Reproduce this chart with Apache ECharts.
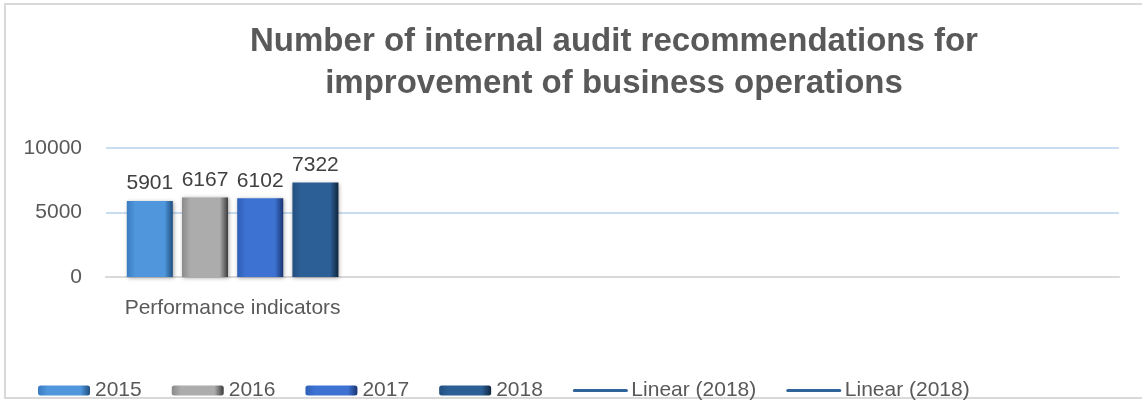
<!DOCTYPE html>
<html lang="en">
<head>
	<meta charset="UTF-8">
	<title>Internal audit recommendations</title>
	<script type="text/javascript" src="https://cdn.jsdelivr.net/npm/echarts@6/dist/echarts.min.js"></script>
	<style>
		html, body { margin: 0; padding: 0; background: #fff; }
		#chart { width: 1142px; height: 400px; }
	</style>
</head>
<body>
	<div id="chart"></div>
	<script type="text/javascript">
		var categories = ['Performance indicators', '', '', ''];
		var years = ['2015', '2016', '2017', '2018'];
		var values2015 = [5901, null, null, null];
		var values2016 = [6167, null, null, null];
		var values2017 = [6102, null, null, null];
		var values2018 = [7322, null, null, null];
		var trendNames = ['Linear (2018)', 'Linear (2018) '];
		var yTicks = [0, 5000, 10000];

		function bevel(edge, mid, dark) {
			return new echarts.graphic.LinearGradient(0, 0, 1, 0, [
				{offset: 0, color: edge},
				{offset: 0.18, color: mid},
				{offset: 0.82, color: mid},
				{offset: 1, color: dark}
			]);
		}

		var barColors = [
			bevel('#3a7bc0', '#4f96dc', '#1f4f80'),
			bevel('#8a8a8a', '#acacac', '#3c3c3c'),
			bevel('#2f5fb5', '#3d72d2', '#1a3570'),
			bevel('#244f80', '#2c5f96', '#10263e')
		];
		var barData = [values2015, values2016, values2017, values2018];

		var series = [];
		for (var i = 0; i < years.length; i++) {
			series.push({
				name: years[i],
				type: 'bar',
				data: barData[i],
				barWidth: 46,
				barGap: '20%',
				itemStyle: {
					color: barColors[i],
					shadowColor: 'rgba(0,0,0,0.35)',
					shadowBlur: 4,
					shadowOffsetX: 1,
					shadowOffsetY: 1
				},
				label: {
					show: true,
					position: 'top',
					distance: 7,
					color: '#404040',
					fontSize: 21,
					fontFamily: 'Liberation Sans'
				}
			});
		}
		trendNames.forEach(function (n) {
			series.push({
				name: n,
				type: 'line',
				data: [],
				symbol: 'none',
				lineStyle: { color: '#2f6399', width: 3 },
				itemStyle: { color: '#2f6399', opacity: 0 }
			});
		});

		var legendData = years.map(function (y) { return { name: y }; });
		trendNames.forEach(function (n) {
			legendData.push({ name: n, lineStyle: { width: 3, color: '#2f6399', cap: 'round' } });
		});

		var myChart = echarts.init(document.getElementById('chart'));
		var option = {
			animation: false,
			title: {
				text: 'Number of internal audit recommendations for\nimprovement of business operations',
				left: 609,
				textAlign: 'center',
				top: 16,
				textStyle: {
					color: '#595959',
					fontSize: 33,
					fontWeight: 'bold',
					fontFamily: 'Liberation Sans',
					lineHeight: 42
				}
			},
			graphic: [{
				type: 'rect',
				shape: { x: 5, y: 4, width: 1150, height: 394 },
				style: { fill: 'none', stroke: '#d9d9d9', lineWidth: 2 }
			}],
			legend: {
				data: legendData,
				left: 33,
				top: 375,
				itemWidth: 52,
				itemHeight: 10,
				itemGap: 30,
				formatter: function (name) { return name.trim(); },
				textStyle: {
					color: '#595959',
					fontSize: 21,
					fontFamily: 'Liberation Sans'
				}
			},
			grid: {
				left: 106,
				right: 23,
				top: 148,
				bottom: 123
			},
			xAxis: {
				type: 'category',
				data: categories,
				axisLine: { lineStyle: { color: '#d9d9d9', width: 2 } },
				axisTick: { show: false },
				axisLabel: {
					color: '#595959',
					fontSize: 21,
					fontFamily: 'Liberation Sans',
					margin: 21,
					interval: 0
				}
			},
			yAxis: {
				type: 'value',
				min: yTicks[0],
				max: yTicks[yTicks.length - 1],
				interval: yTicks[1] - yTicks[0],
				axisLine: { show: false },
				axisTick: { show: false },
				splitLine: { lineStyle: { color: '#c9ddf0', width: 2 } },
				axisLabel: {
					color: '#595959',
					fontSize: 21,
					fontFamily: 'Liberation Sans',
					margin: 24,
					formatter: function (v) { return String(v); }
				}
			},
			series: series
		};
		myChart.setOption(option);
	</script>
</body>
</html>
